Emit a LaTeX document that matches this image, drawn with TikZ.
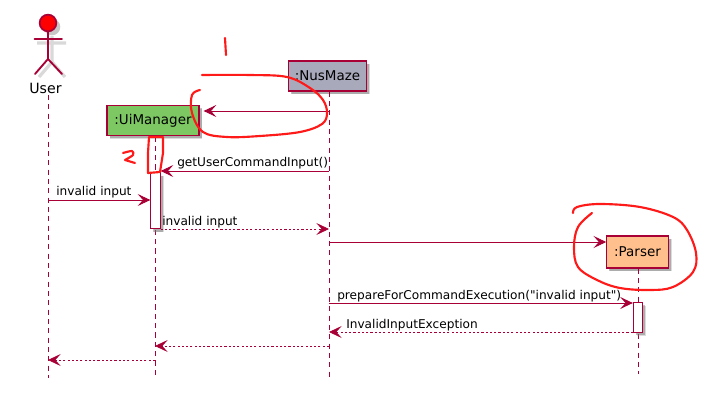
\documentclass[tikz,border=0pt]{standalone}
\usepackage{fontspec}
\setmainfont{DejaVu Sans}
\newfontfamily\plainfont{DejaVu Sans}
\usetikzlibrary{arrows.meta,shadows,calc}
\definecolor{pum}{HTML}{A80036}
\definecolor{ink}{HTML}{FF1A1A}
\definecolor{uimfill}{HTML}{7DC863}
\definecolor{nusfill}{HTML}{A9A9BC}
\definecolor{parfill}{HTML}{FFC08D}
\tikzset{
  x=0.75pt,y=-0.75pt,
  softshadow/.style={general shadow={shadow xshift=2.6pt,shadow yshift=-2.6pt,fill=black!45,opacity=.3},
                     general shadow={shadow xshift=1.9pt,shadow yshift=-1.9pt,fill=black!60,opacity=.4}},
  part/.style={draw=pum,line width=.95pt,softshadow,inner sep=0pt,anchor=center,text=black,font=\fontsize{10.1}{12}\selectfont},
  bar/.style={draw=pum,fill=white,line width=.75pt,softshadow,inner sep=0pt,minimum width=7pt},
  life/.style={draw=pum,line width=.65pt,dash pattern=on 3.8pt off 3.2pt},
  call/.style={draw=pum,line width=.7pt,-{Stealth[length=9.5pt,width=9pt,inset=4pt,fill=pum]}},
  back/.style={draw=pum,line width=.6pt,dash pattern=on 1.6pt off 1.6pt,-{Stealth[length=9.5pt,width=9pt,inset=4pt,fill=pum]}},
  lbl/.style={anchor=base west,inner sep=0pt,text=black,font=\plainfont\fontsize{9.1}{11}\selectfont},
  scribble/.style={draw=ink,line width=1.6pt,line cap=round,line join=round},
  figure/.style={draw=pum,line width=1.4pt,line cap=round},
  figureshade/.style={draw=black!15,line width=2.4pt}
}
\begin{document}
\begin{tikzpicture}
\useasboundingbox (0,0) rectangle (713,413);
\fill[white] (0,0) rectangle (713,413);

% lifeline ends
\coordinate (utop) at (48,95);   \coordinate (ubot) at (48,378);
\coordinate (mbot) at (155,378);
\coordinate (nbot) at (329,378);
\coordinate (pbot) at (638,374);

% actor
\fill[black!22] (52,27) circle (8.3);
\draw[figureshade] (37,43) -- (66,43) (52,36) -- (52,62) -- (39,77) (52,62) -- (65,77);
\draw[figure] (48,32) -- (48,59) (34.5,39) -- (62,39) (48,59) -- (35,74) (48,59) -- (62,74);
\node[circle,draw=pum,line width=1.3pt,fill=red,minimum size=12.5pt,inner sep=0pt] (head) at (48,23) {};
\node[inner sep=0pt,text=black,font=\fontsize{10.6}{12}\selectfont] (user) at (45.5,88) {User};

% participants
\node[part,fill=uimfill,minimum width=69pt,minimum height=23pt] (uim) at (153,120.5) {:UiManager};
\node[part,fill=nusfill,minimum width=59pt,minimum height=22.5pt] (nus) at (327.5,76) {:NusMaze};
\node[part,fill=parfill,minimum width=46pt,minimum height=24pt] (par) at (637.5,252) {:Parser};

% lifelines
\draw[life] (utop) -- (ubot);
\draw[life] (uim.south -| mbot) -- (mbot);
\draw[life] (nus.south -| nbot) -- (nbot);
\draw[life] (par.south -| pbot) -- (pbot);

% activations
\node[bar,minimum height=42pt] (act1) at (155.5,201) {};
\node[bar,minimum height=22pt] (act2) at (638,317.5) {};

% messages
\coordinate (s1) at (329,111);
\draw[call] (s1) -- ($(s1 -| uim.east)+(4,0)$);
\coordinate (s2) at (329,171);
\draw[call] (s2) -- (s2 -| act1.east);
\node[lbl] (l2) at (177,167) {getUserCommandInput()};
\coordinate (s3) at (48,200);
\draw[call] (s3) -- (s3 -| act1.west);
\node[lbl] (l3) at (56,196) {invalid input};
\coordinate (s4) at (329,229);
\draw[back] (s4 -| act1.east) -- (s4);
\node[lbl] (l4) at (162,225) {invalid input};
\coordinate (s5) at (329,242);
\draw[call] (s5) -- (s5 -| par.west);
\coordinate (s6) at (329,303);
\draw[call] (s6) -- (s6 -| act2.west);
\node[lbl] (l6) at (337,299) {prepareForCommandExecution("invalid input")};
\coordinate (s7) at (329,332);
\draw[back] (s7 -| act2.west) -- (s7);
\node[lbl] (l7) at (346,328) {InvalidInputException};
\coordinate (s8) at (329,346);
\draw[back] (s8) -- (s8 -| mbot);
\coordinate (s9) at (155,360);
\draw[back] (s9) -- (s9 -| ubot);

% red annotations
\draw[scribble] (225,38) -- (226,55);
\draw[scribble] plot[smooth,tension=.6] coordinates {(202,75) (250,75) (287,77) (310,88) (323,100) (327,113) (322,124) (300,132) (260,136) (227,137) (203,132) (192,113) (192,95) (200,90)};
\draw[scribble] (149,137) -- (163,137) -- (163,153) -- (160,172) -- (148,173) -- (148,153) -- cycle;
\draw[scribble] plot[smooth,tension=.5] coordinates {(123,153) (132,151) (133,155) (125,160)} -- (135,163);
\draw[scribble] plot[smooth,tension=.6] coordinates {(573,213) (577,207) (600,204) (640,207) (673,217) (687,230) (696,253) (693,272) (673,287) (650,290) (620,288) (597,280) (578,267) (574,247) (578,227) (592,213)};
\end{tikzpicture}
\end{document}
